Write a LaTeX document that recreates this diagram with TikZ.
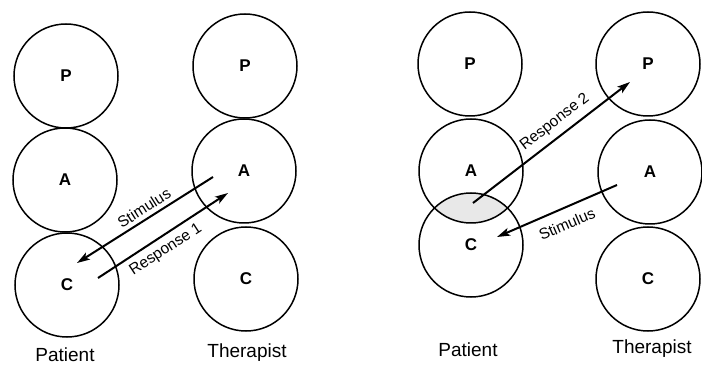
\documentclass[tikz,border=0pt]{standalone}
\usepackage{fontspec}
\setmainfont{Liberation Sans}
\usetikzlibrary{arrows.meta,calc,backgrounds}

\begin{document}
\begin{tikzpicture}[x=1pt, y=-1pt,
  ego/.style={draw, circle, line width=1.5pt, minimum size=104pt, inner sep=0pt,
              font=\bfseries\fontsize{17}{17}\selectfont},
  arr/.style={-{Stealth[length=13pt, width=8pt, inset=3pt]}, line width=2pt},
  lbl/.style={font=\fontsize{15.5}{16}\selectfont, inner sep=0pt},
  who/.style={font=\fontsize{19}{19}\selectfont, inner sep=0pt},
  lens/.style={fill=black!9}]
\useasboundingbox (0,0) rectangle (702,366);
\node[ego] (lpP) at (66,76) {P};
\node[ego] (lpA) at (65,180) {A};
\node[ego] (lpC) at (67,285) {C};
\node[ego] (ltP) at (245,66) {P};
\node[ego] (ltA) at (244,171) {A};
\node[ego] (ltC) at (246,279) {C};
\node[who] (lpName) at (65,355) {Patient};
\node[who] (ltName) at (247,353) {Therapist};
\node[ego] (rpP) at (470,64) {P};
\node[ego] (rpA) at (471,171) {A};
\node[ego] (rpC) at (471,245) {C};
\node[ego] (rtP) at (648,64) {P};
\node[ego] (rtA) at (650,172) {A};
\node[ego] (rtC) at (648,279) {C};
\node[who] (rpName) at (468,350) {Patient};
\node[who] (rtName) at (652,349) {Therapist};
\begin{scope}[on background layer]
  \clip (rpA) circle[radius=52pt];
  \fill[lens] (rpC) circle[radius=52pt];
\end{scope}
\coordinate (stimLs) at ($(ltA)+(-31,6)$);
\coordinate (stimLe) at ($(lpC)+(10,-22)$);
\coordinate (respLs) at ($(lpC)+(31,-7)$);
\coordinate (respLe) at ($(ltA)+(-16,22)$);
\coordinate (respRs) at ($(rpA)+(2,32)$);
\coordinate (respRe) at ($(rtP)+(-18,18)$);
\coordinate (stimRs) at ($(rtA)+(-33,13)$);
\coordinate (stimRe) at ($(rpC)+(26,-8)$);
\draw[arr] (stimLs) -- (stimLe);
\draw[arr] (respLs) -- (respLe);
\draw[arr] (respRs) -- (respRe);
\draw[arr] (stimRs) -- (stimRe);
\node[lbl, rotate=32.3] (stimLtxt) at (144,208) {Stimulus};
\node[lbl, rotate=33.2] (respLtxt) at (166,250) {Response 1};
\node[lbl, rotate=37.6] (respRtxt) at (555,122) {Response 2};
\node[lbl, rotate=23.4] (stimRtxt) at (567,224) {Stimulus};
\end{tikzpicture}
\end{document}
